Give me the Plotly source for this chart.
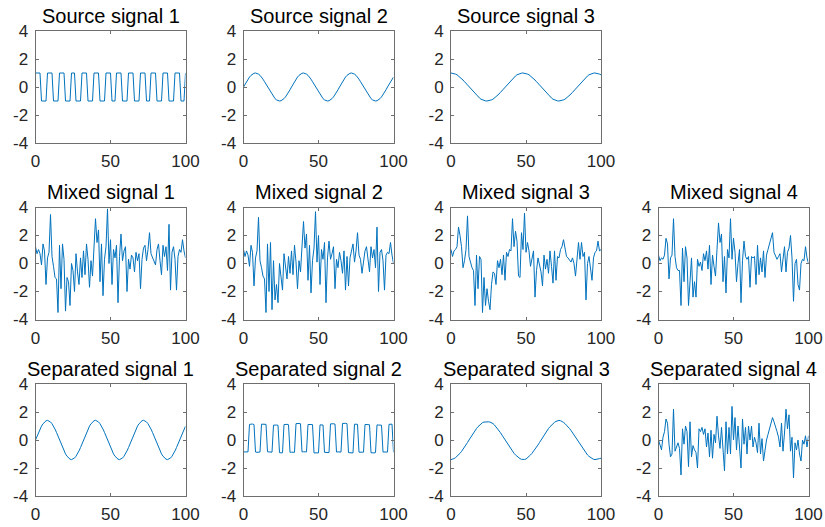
import plotly.graph_objects as go

# ---------------- data ----------------
x_vals = list(range(101))

source1 = [1, 1, 1, 1, -1, -1, -1, -1, 1, 1, 1, 1, -1, -1, -1, -1, 1, 1, 1, 1,
           -1, -1, -1, -1, 1, 1, 1, -1, -1, -1, -1, 1, 1, 1, 1, -1, -1, -1, -1, 1,
           1, 1, 1, -1, -1, -1, -1, 1, 1, 1, 1, -1, -1, -1, 1, 1, 1, 1, -1, -1,
           -1, -1, 1, 1, 1, 1, -1, -1, -1, -1, 1, 1, 1, 1, -1, -1, -1, 1, 1, 1,
           1, -1, -1, -1, -1, 1, 1, 1, 1, -1, -1, -1, -1, 1, 1, 1, 1, -1, -1, -1,
           1]

source2 = [0.00, 0.20, 0.38, 0.56, 0.71, 0.83, 0.92, 0.98, 1.00, 0.98, 0.92, 0.83, 0.71, 0.56, 0.38, 0.20,
           0.00, -0.20, -0.38, -0.56, -0.71, -0.83, -0.92, -0.98, -1.00, -0.98, -0.92, -0.83, -0.71, -0.56, -0.38, -0.20,
           0.00, 0.20, 0.38, 0.56, 0.71, 0.83, 0.92, 0.98, 1.00, 0.98, 0.92, 0.83, 0.71, 0.56, 0.38, 0.20,
           0.00, -0.20, -0.38, -0.56, -0.71, -0.83, -0.92, -0.98, -1.00, -0.98, -0.92, -0.83, -0.71, -0.56, -0.38, -0.20,
           0.00, 0.20, 0.38, 0.56, 0.71, 0.83, 0.92, 0.98, 1.00, 0.98, 0.92, 0.83, 0.71, 0.56, 0.38, 0.20,
           0.00, -0.20, -0.38, -0.56, -0.71, -0.83, -0.92, -0.98, -1.00, -0.98, -0.92, -0.83, -0.71, -0.56, -0.38, -0.20,
           0.00, 0.20, 0.38, 0.56, 0.71]

source3 = [1.00, 0.99, 0.97, 0.92, 0.87, 0.79, 0.71, 0.61, 0.50, 0.38, 0.26, 0.13, 0.00, -0.13, -0.26, -0.38,
           -0.50, -0.61, -0.71, -0.79, -0.87, -0.92, -0.97, -0.99, -1.00,
           -0.99, -0.97, -0.92, -0.87, -0.79, -0.71, -0.61, -0.50, -0.38, -0.26, -0.13, 0.00, 0.13, 0.26, 0.38,
           0.50, 0.61, 0.71, 0.79, 0.87, 0.92, 0.97, 0.99,
           1.00, 0.99, 0.97, 0.92, 0.87, 0.79, 0.71, 0.61, 0.50, 0.38, 0.26, 0.13, 0.00, -0.13, -0.26, -0.38,
           -0.50, -0.61, -0.71, -0.79, -0.87, -0.92, -0.97, -0.99, -1.00,
           -0.99, -0.97, -0.92, -0.87, -0.79, -0.71, -0.61, -0.50, -0.38, -0.26, -0.13, 0.00, 0.13, 0.26, 0.38,
           0.50, 0.61, 0.71, 0.79, 0.87, 0.92, 0.97, 0.99,
           1.00, 0.99, 0.97, 0.92, 0.87]

mixed1 = [1.2, 0.7, 1.0, 0.7, -0.1, 1.4, 0.9, -1.5, 0.4, 0.8,
          3.5, 0.5, -0.2, -1.0, -1.1, -3.5, 1.3, -1.8, 1.4, 0.3,
          -3.4, -1.0, -1.3, -3.0, 0.0, -0.5, -2.0, 0.7, -0.6, -1.5,
          0.4, -1.0, 0.9, -0.8, 1.4, 0.3, -1.7, 0.2, -0.9, 1.0,
          3.2, 1.5, 2.4, -1.3, 1.4, -2.3, 0.3, 1.2, 3.9, 0.0,
          1.7, -1.5, 1.0, 0.4, 1.3, -2.8, 0.5, 2.1, 0.2, 0.9,
          1.2, -2.0, 0.3, -0.4, 0.6, 0.4, -0.6, 0.8, 0.2, 0.7,
          -1.8, 0.3, 1.1, 1.3, 0.2, 1.0, 2.2, 0.7, 0.4, 0.1,
          -0.1, 1.0, 1.4, 0.2, -0.8, 1.3, 0.5, 1.2, -0.5, 2.8,
          -1.9, 0.8, 1.2, 0.3, -1.9, 0.5, 1.0, 0.8, 1.7, 0.9,
          0.4]

mixed2 = [1.0, 0.5, 0.9, 0.6, -0.2, 1.3, 0.8, -1.6, 0.4, 0.9,
          3.3, 0.2, -0.3, -0.9, -1.1, -3.5, 1.4, -2.0, 1.5, -3.3,
          0.2, -2.6, -1.5, -2.8, 0.0, -0.8, -1.9, 0.7, -0.3, -1.1,
          0.5, -0.7, 0.9, -0.8, 1.3, 0.1, -1.8, 0.2, -0.6, 0.9,
          3.0, 1.1, 2.1, -1.2, 1.3, -2.1, 0.2, 1.1, 3.7, 0.1,
          2.0, -1.5, 1.0, 0.3, 1.5, -2.8, 0.4, 1.6, 0.3, 0.7,
          1.2, -1.8, 0.3, -0.3, 0.8, 0.2, -0.7, 0.9, -1.9, 0.5,
          -1.6, 0.4, 1.0, 1.4, 0.1, 0.9, 2.2, 0.6, 0.3, -0.7,
          0.1, 0.9, 1.2, 0.3, -0.6, 1.2, 0.4, 1.0, -0.3, 2.6,
          -2.0, 0.8, 1.0, 0.2, -1.9, 0.6, 0.8, 0.7, 1.5, 0.6,
          0.0]

mixed3 = [1.0, 0.5, 0.9, 1.0, 1.2, 2.6, 2.0, 1.2, -0.3, 0.2,
          1.0, 3.4, 0.5, 0.0, -0.3, -0.5, -3.0, 0.6, -1.8, 0.5,
          0.3, -3.5, -1.0, -3.0, -1.8, -2.7, -3.3, -1.5, -0.6, -0.7,
          -1.5, 0.2, -0.3, 0.3, -0.8, 0.6, -1.2, 0.8, 0.5, 1.0,
          0.9, 3.2, 1.2, 2.3, 1.6, -0.9, -1.0, 2.2, 1.0, 3.6,
          0.8, 1.5, 0.9, -0.2, 0.3, 0.9, -2.4, -0.5, 0.4, 0.0,
          -0.6, -1.6, 0.6, -0.4, 0.3, -0.7, 0.9, -0.2, -1.4, 0.9,
          -1.2, 0.5, 0.4, 1.0, 1.2, 1.7, 0.9, 0.5, 0.4, 0.2,
          0.1, 0.4, 0.0, -0.9, 0.6, 1.5, 0.3, 1.5, 0.5, 0.8,
          -2.6, 0.0, 0.5, -0.6, -1.2, 0.4, 0.8, 0.9, 1.6, 0.9,
          1.0]

mixed4 = [0.6, 0.2, 0.4, 0.3, 0.6, 1.8, 1.4, -1.1, 0.4, 0.6,
          3.2, 0.5, -0.3, -0.5, -0.5, -3.0, 1.1, -1.3, 1.2, 0.4,
          -3.0, -0.8, 0.4, -2.4, -1.3, -2.4, 0.3, -0.2, 0.1, -0.5,
          0.7, 0.2, 0.9, -0.4, 1.3, -1.5, 0.6, -0.2, -0.9, 1.0,
          2.9, 1.5, 2.1, -1.3, 0.5, -2.1, 1.0, 0.4, 3.2, 0.3,
          1.8, 0.8, -1.3, 0.0, 1.0, -2.8, 0.2, 1.6, 0.5, 0.3,
          0.5, -1.7, 0.5, 0.4, 0.5, -1.5, 1.3, -0.8, 0.4, -0.6,
          0.9, -1.0, 0.6, 1.0, 1.4, 1.6, 2.2, 0.8, 0.6, 0.3,
          0.5, 0.7, -0.6, 0.3, 1.2, -0.6, 0.8, 1.1, 2.0, 0.4,
          -2.7, 0.0, 0.3, -1.5, -1.9, 0.0, 0.3, 0.2, 1.2, 0.4,
          0.0]

separated1 = [0.00, 0.27, 0.54, 0.78, 0.99, 1.16, 1.29, 1.37, 1.40, 1.37, 1.29, 1.16, 0.99, 0.78, 0.54, 0.27,
              0.00, -0.27, -0.54, -0.78, -0.99, -1.16, -1.29, -1.37, -1.40, -1.37, -1.29, -1.16, -0.99, -0.78, -0.54, -0.27,
              0.00, 0.27, 0.54, 0.78, 0.99, 1.16, 1.29, 1.37, 1.41, 1.37, 1.29, 1.16, 0.99, 0.78, 0.54, 0.27,
              0.00, -0.27, -0.54, -0.78, -0.99, -1.16, -1.29, -1.37, -1.40, -1.37, -1.29, -1.16, -0.99, -0.78, -0.54, -0.27,
              0.00, 0.27, 0.54, 0.78, 0.99, 1.16, 1.29, 1.37, 1.41, 1.37, 1.29, 1.16, 0.99, 0.78, 0.54, 0.27,
              0.00, -0.27, -0.54, -0.78, -0.99, -1.16, -1.29, -1.37, -1.40, -1.37, -1.29, -1.16, -0.99, -0.78, -0.54, -0.27,
              0.00, 0.27, 0.54, 0.78, 0.99]

separated2 = [-0.85, -0.86, -0.84, -0.85, 1.12, 1.15, 1.14, 1.10, -0.86, -0.88, -0.87, -0.86,
              1.13, 1.14, 1.16, 1.12, -0.84, -0.86, -0.85, -0.87, 1.06, 1.08, 1.07, 1.05,
              -0.90, -0.92, -0.91, 1.10, 1.13, 1.12, 1.09, -0.88, -0.87, -0.89, -0.88,
              1.17, 1.19, 1.18, 1.16, -0.85, -0.84, -0.86, -0.85, 1.11, 1.12, 1.13, 1.10,
              -0.92, -0.93, -0.91, -0.92, 1.08, 1.10, 1.07, -0.88, -0.89, -0.87, -0.90,
              1.15, 1.17, 1.16, 1.14, -0.86, -0.85, -0.87, -0.86, 1.18, 1.20, 1.19, 1.17,
              -0.90, -0.91, -0.89, -0.92, 1.13, 1.15, 1.12, -0.87, -0.86, -0.88, -0.87,
              1.11, 1.12, 1.10, 1.09, -0.91, -0.93, -0.92, -0.90, 1.08, 1.07, 1.09, 1.06,
              -0.86, -0.85, -0.87, -0.86, 1.12, 1.14, 1.13, -0.88]

separated3 = [-1.40, -1.38, -1.33, -1.26, -1.17, -1.07, -0.95, -0.82, -0.68, -0.52, -0.35, -0.18,
              0.00, 0.18, 0.35, 0.52, 0.68, 0.82, 0.95, 1.07, 1.17, 1.24, 1.28, 1.30,
              1.30, 1.30, 1.28, 1.24, 1.17, 1.07, 0.95, 0.82, 0.68, 0.52, 0.35, 0.18,
              0.00, -0.18, -0.35, -0.52, -0.68, -0.82, -0.95, -1.07, -1.17, -1.26, -1.33, -1.38,
              -1.40, -1.39, -1.36, -1.28, -1.17, -1.07, -0.95, -0.82, -0.68, -0.52, -0.35, -0.18,
              0.00, 0.18, 0.35, 0.52, 0.68, 0.82, 0.95, 1.07, 1.17, 1.26, 1.33, 1.38,
              1.40, 1.38, 1.33, 1.26, 1.17, 1.07, 0.95, 0.82, 0.68, 0.52, 0.35, 0.18,
              0.00, -0.18, -0.35, -0.52, -0.68, -0.82, -0.95, -1.07, -1.17, -1.26, -1.33, -1.38,
              -1.40, -1.39, -1.36, -1.33, -1.30]

separated4 = [0.0, -0.4, -0.7, 0.2, 0.6, 1.5, 1.2, -0.3, -1.2, -1.0,
              2.2, -0.8, -0.5, -0.2, -0.6, -2.5, 0.8, -0.3, 1.0, 0.6,
              -1.9, 1.3, -1.2, -0.4, -0.7, -0.9, -2.0, 0.8, 0.6, 0.9,
              0.4, 0.8, -0.5, 0.5, -1.2, 0.7, -1.3, 0.4, -0.2, 1.7,
              0.3, -0.6, 0.9, -0.8, -2.2, 1.3, -1.0, 0.9, -1.0, 2.4,
              0.0, 1.6, -0.7, 1.0, -0.5, -2.0, 1.5, -0.3, 0.9, -1.0,
              1.0, 0.0, 1.0, -0.5, 0.2, -0.2, -0.9, 1.2, -1.0, 0.1,
              -1.5, -0.6, 0.0, 0.4, 0.8, 1.1, 1.6, 1.3, 1.0, 0.6,
              0.2, -0.5, 1.2, -0.8, 0.5, 2.2, 0.8, 1.8, -0.8, 0.2,
              -2.7, -0.2, -0.7, 0.0, -1.0, -1.5, 0.0, -0.3, 0.3, -0.5,
              0.3]

titles = ["Source signal 1", "Source signal 2", "Source signal 3",
          "Mixed signal 1", "Mixed signal 2", "Mixed signal 3", "Mixed signal 4",
          "Separated signal 1", "Separated signal 2", "Separated signal 3", "Separated signal 4"]
series = [source1, source2, source3,
          mixed1, mixed2, mixed3, mixed4,
          separated1, separated2, separated3, separated4]
cells = [(0, 0), (0, 1), (0, 2),
         (1, 0), (1, 1), (1, 2), (1, 3),
         (2, 0), (2, 1), (2, 2), (2, 3)]

x_ticks = [0, 50, 100]
y_ticks = [-4, -2, 0, 2, 4]

# ---------------- layout geometry (pixels) ----------------
W, H = 825, 527
col_left = [35.5, 243.5, 451.0, 658.5]
row_top = [31.0, 207.5, 384.0]
pw, ph = 150.0, 112.0

FONT = "Liberation Sans, Arial, Helvetica, sans-serif"
AX_COLOR = "#6e6e6e"
LINE_COLOR = "#0072BD"

fig = go.Figure()
layout = dict(
    width=W, height=H,
    margin=dict(l=0, r=0, t=0, b=0, autoexpand=False),
    paper_bgcolor="white", plot_bgcolor="white",
    showlegend=False,
    font=dict(family=FONT, size=17, color="#262626"),
    annotations=[],
)

for i, (title, ys, (r, c)) in enumerate(zip(titles, series, cells)):
    n = i + 1
    xname = "x" if n == 1 else f"x{n}"
    yname = "y" if n == 1 else f"y{n}"
    fig.add_trace(go.Scatter(x=x_vals, y=ys, mode="lines",
                             line=dict(color=LINE_COLOR, width=1),
                             xaxis=xname, yaxis=yname, hoverinfo="skip"))
    left, top = col_left[c], row_top[r]
    xd = [left / W, (left + pw) / W]
    yd = [1 - (top + ph) / H, 1 - top / H]
    common = dict(showgrid=False, zeroline=False, showline=True, linecolor=AX_COLOR,
                  linewidth=1, mirror="ticks", ticks="inside", ticklen=3,
                  tickcolor=AX_COLOR, tickwidth=1, automargin=False,
                  tickfont=dict(family=FONT, size=17, color="#262626"))
    layout["xaxis" if n == 1 else f"xaxis{n}"] = dict(
        domain=xd, anchor=yname, range=[0, 100], tickvals=x_ticks,
        ticktext=[str(v) for v in x_ticks], ticklabelstandoff=3, **common)
    layout["yaxis" if n == 1 else f"yaxis{n}"] = dict(
        domain=yd, anchor=xname, range=[-4, 4], tickvals=y_ticks,
        ticktext=[str(v) for v in y_ticks], ticklabelstandoff=3, **common)
    layout["annotations"].append(dict(
        text=title, xref="paper", yref="paper",
        x=(left + pw / 2) / W, y=1 - (top - 15) / H,
        xanchor="center", yanchor="middle", showarrow=False,
        font=dict(family=FONT, size=20, color="black")))

fig.update_layout(**layout)
fig.write_html("out.html",
               config={"displayModeBar": False, "staticPlot": True},
               post_script="document.body.style.margin='0';document.body.style.overflow='hidden';")
